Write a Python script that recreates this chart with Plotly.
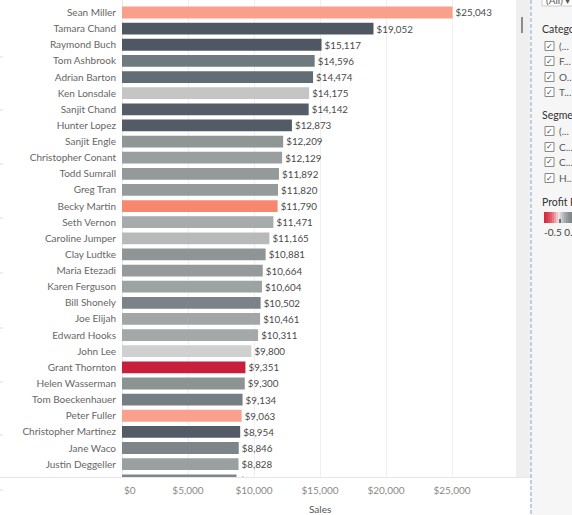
import plotly.graph_objects as go

customers = ["Sean Miller", "Tamara Chand", "Raymond Buch", "Tom Ashbrook", "Adrian Barton",
             "Ken Lonsdale", "Sanjit Chand", "Hunter Lopez", "Sanjit Engle", "Christopher Conant",
             "Todd Sumrall", "Greg Tran", "Becky Martin", "Seth Vernon", "Caroline Jumper",
             "Clay Ludtke", "Maria Etezadi", "Karen Ferguson", "Bill Shonely", "Joe Elijah",
             "Edward Hooks", "John Lee", "Grant Thornton", "Helen Wasserman", "Tom Boeckenhauer",
             "Peter Fuller", "Christopher Martinez", "Jane Waco", "Justin Deggeller", "Laura Armstrong"]
sales = [25043, 19052, 15117, 14596, 14474, 14175, 14142, 12873, 12209, 12129,
         11892, 11820, 11790, 11471, 11165, 10881, 10664, 10604, 10502, 10461,
         10311, 9800, 9351, 9300, 9134, 9063, 8954, 8846, 8828, 8673]
x_tick_values = [5000, 10000, 15000, 20000, 25000]
x_tick_labels = ["$5,000", "$10,000", "$15,000", "$20,000", "$25,000"]

bar_colors = ["#f9a08b", "#4f5862", "#4f5862", "#6e7a80", "#626c75",
              "#c4c5c4", "#555e68", "#535c66", "#8f9696", "#999e9e",
              "#949a9a", "#959b9b", "#f7886f", "#a7abab", "#b8bab9",
              "#8f9595", "#959b9b", "#9da2a2", "#7b8389", "#a2a6a6",
              "#a4a8a8", "#d0d0d0", "#c8203c", "#8b9393", "#747e83",
              "#fba08c", "#535c66", "#7d8588", "#9a9f9f", "#7f878a"]

W, H = 572, 515
PL, PR, PT, PB = 122, 516, 0, 477
def px(x):
    return (x - PL) / (PR - PL)
def py(y):
    return 1 - (y - PT) / (PB - PT)

FONT = "Lato"

fig = go.Figure(go.Bar(
    x=sales, y=customers, orientation="h",
    marker=dict(color=bar_colors, line=dict(width=0)),
    text=["$" + f"{v:,}" for v in sales], textposition="outside",
    textfont=dict(family=FONT, size=10, color="#4a4a4a"),
    cliponaxis=True, hoverinfo="skip",
))

shapes = []
annotations = []

annotations.append(dict(x=px(122), y=py(490), xref="paper", yref="paper", text="$0",
                        showarrow=False, xanchor="left", yanchor="middle",
                        font=dict(family=FONT, size=10, color="#8a8a8a")))
annotations.append(dict(x=px(320), y=py(509), xref="paper", yref="paper", text="Sales",
                        showarrow=False, xanchor="center", yanchor="middle",
                        font=dict(family=FONT, size=10, color="#555555")))

# horizontal separator
shapes.append(dict(type="line", xref="paper", yref="paper", x0=px(0), x1=px(531),
                   y0=py(477.5), y1=py(477.5), line=dict(color="#e6e6e6", width=1)))
# scrollbar
shapes.append(dict(type="rect", xref="paper", yref="paper", x0=px(516), x1=px(530),
                   y0=py(0), y1=py(477), fillcolor="#efefef", line=dict(width=0), layer="above"))
shapes.append(dict(type="line", xref="paper", yref="paper", x0=px(522), x1=px(522),
                   y0=py(17), y1=py(33), line=dict(color="#6a6a6a", width=1.5), layer="above"))
# right panel
shapes.append(dict(type="rect", xref="paper", yref="paper", x0=px(531), x1=px(580),
                   y0=py(-5), y1=py(520), fillcolor="#f6f6f6", line=dict(width=0), layer="above"))
shapes.append(dict(type="line", xref="paper", yref="paper", x0=px(531), x1=px(531),
                   y0=py(0), y1=py(515), line=dict(color="#a9bfe3", width=1.5, dash="4px,2px"),
                   layer="above"))
# left faint dashes
for yy in [57, 110, 164, 218, 273, 328, 382, 435, 490]:
    shapes.append(dict(type="line", xref="paper", yref="paper", x0=px(0), x1=px(5),
                       y0=py(yy), y1=py(yy), line=dict(color="#dddddd", width=1, dash="dot")))

# (All) dropdown
shapes.append(dict(type="rect", xref="paper", yref="paper", x0=px(542), x1=px(580),
                   y0=py(-10), y1=py(6), fillcolor="#ffffff", line=dict(color="#cccccc", width=1),
                   layer="above"))
annotations.append(dict(x=px(544), y=py(0), xref="paper", yref="paper", text="(All) ▾",
                        showarrow=False, xanchor="left", yanchor="middle",
                        font=dict(family=FONT, size=10, color="#555555")))

def header(text, y):
    annotations.append(dict(x=px(540), y=py(y), xref="paper", yref="paper", text=text,
                            showarrow=False, xanchor="left", yanchor="middle",
                            font=dict(family=FONT, size=10.5, color="#333333")))

def checkbox(label, y):
    shapes.append(dict(type="rect", xref="paper", yref="paper", x0=px(545), x1=px(554),
                       y0=py(y - 4.5), y1=py(y + 4.5), fillcolor="#ffffff",
                       line=dict(color="#888888", width=1), layer="above"))
    annotations.append(dict(x=px(549.5), y=py(y), xref="paper", yref="paper", text="✓",
                            showarrow=False, xanchor="center", yanchor="middle",
                            font=dict(family="DejaVu Sans", size=8, color="#444444")))
    annotations.append(dict(x=px(557), y=py(y), xref="paper", yref="paper", text=label,
                            showarrow=False, xanchor="left", yanchor="middle",
                            font=dict(family=FONT, size=10, color="#555555")))

header("Category", 29)
for lab, yy in zip(["(...", "F...", "O...", "T..."], [46, 61, 77, 92]):
    checkbox(lab, yy)
header("Segment", 115)
for lab, yy in zip(["(...", "C...", "C...", "H..."], [131, 147, 162, 178]):
    checkbox(lab, yy)
header("Profit Ratio", 202)

grad = ["#d42a40", "#d8394e", "#dc4a5c", "#e15e6e", "#e77a87", "#ee9ea7", "#f3c3c8",
        "#e8e0e1", "#cfd1d2", "#b9bcbe", "#a6aaad", "#969b9f", "#8a8f94", "#80868b"]
for i, c in enumerate(grad):
    shapes.append(dict(type="rect", xref="paper", yref="paper", x0=px(544 + 2 * i), x1=px(546 + 2 * i),
                       y0=py(212), y1=py(223), fillcolor=c, line=dict(width=0), layer="above"))
shapes.append(dict(type="line", xref="paper", yref="paper", x0=px(560), x1=px(560),
                   y0=py(219), y1=py(223), line=dict(color="#000000", width=1), layer="above"))
annotations.append(dict(x=px(542), y=py(232), xref="paper", yref="paper", text="-0.5 0.5",
                        showarrow=False, xanchor="left", yanchor="middle",
                        font=dict(family=FONT, size=10, color="#444444")))

pitch = 16.13
y_top = -12.5 / pitch
y_bot = (PB - 12.5) / pitch

fig.update_layout(
    width=W, height=H,
    margin=dict(l=PL, r=W - PR, t=PT, b=H - PB, pad=0),
    paper_bgcolor="#ffffff", plot_bgcolor="#ffffff",
    bargap=0.27, showlegend=False,
    font=dict(family=FONT, size=10, color="#555555"),
    xaxis=dict(range=[0, (PR - PL) / 66.0 * 5000], tickvals=x_tick_values, ticktext=x_tick_labels,
               showgrid=True, gridcolor="#efefef", gridwidth=1, zeroline=True,
               zerolinecolor="#e8e8e8", zerolinewidth=1, showline=False, ticks="",
               tickfont=dict(family=FONT, size=10, color="#8a8a8a"), ticklabelstandoff=6,
               fixedrange=True),
    yaxis=dict(type="category", categoryarray=customers, categoryorder="array",
               range=[y_bot, y_top], showgrid=False, zeroline=False, showline=False, ticks="",
               tickfont=dict(family=FONT, size=10, color="#666666"), ticklabelstandoff=5,
               fixedrange=True),
    shapes=shapes, annotations=annotations,
)

fig.write_html("out.html", config={"displayModeBar": False})
